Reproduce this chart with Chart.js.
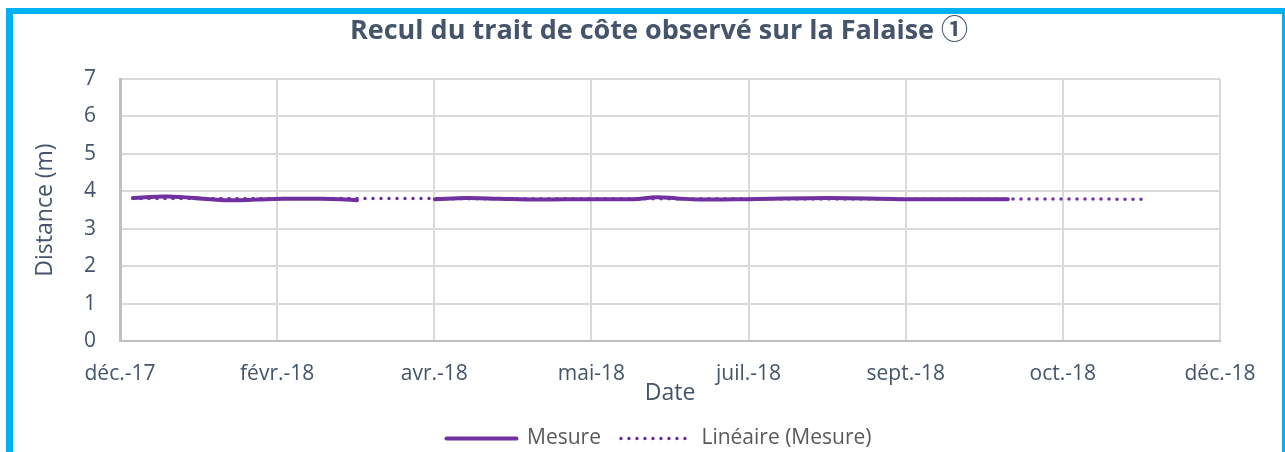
<!DOCTYPE html>
<html><head><meta charset="utf-8">
<script src="https://cdn.jsdelivr.net/npm/chart.js@4.4.1/dist/chart.umd.min.js"></script>
<style>
html,body{margin:0;padding:0;background:#fff;overflow:hidden;width:1285px;height:452px;}
#c{position:absolute;left:13px;top:14px;}
#frame{position:absolute;left:6px;top:8px;width:1269px;height:470px;border-left:7px solid #00B0F0;border-top:6px solid #00B0F0;border-right:7px solid #00B0F0;pointer-events:none;z-index:2;}
</style></head><body>
<canvas id="c" width="1292" height="445"></canvas>
<div id="frame"></div>
<script>
const titleText = 'Recul du trait de côte observé sur la Falaise ①';
const tickLabels = ['déc.-17','févr.-18','avr.-18','mai-18','juil.-18','sept.-18','oct.-18','déc.-18'];
const tickDays = [0, 52, 104, 156, 208, 260, 312, 364];
// days since first tick, null value = missing measurement (gap)
const measureDays   = [4.3, 15.6, 29.8, 36.4, 45.3, 53.9, 65.2, 72.8, 78.4, 91,   104.2, 114.8, 125.7, 136.7, 155.5, 169.8, 177.7, 184.3, 191.9, 208.5, 234.9, 258.1, 278.0, 293.8];
const measureValues = [3.82, 3.86, 3.79, 3.76, 3.78, 3.80, 3.80, 3.79, 3.76, null, 3.79,  3.82,  3.80,  3.78,  3.79,  3.79,  3.84,  3.81,  3.78,  3.79,  3.82,  3.79,  3.79,  3.79];
const trendDays = [4.3, 339];
const trendValues = [3.81, 3.79];

const purple = '#7030A0';
const slate = '#44546A';
Chart.defaults.font.family = "'Open Sans', sans-serif";

new Chart(document.getElementById('c'), {
  type: 'line',
  data: {
    datasets: [
      {
        label: 'Mesure',
        data: measureDays.map((d, i) => ({x: d, y: measureValues[i]})),
        borderColor: purple, backgroundColor: purple,
        borderWidth: 4, tension: 0.4, spanGaps: false,
        pointRadius: 0, pointStyle: 'line', borderCapStyle: 'round'
      },
      {
        label: 'Linéaire (Mesure)',
        data: trendDays.map((d, i) => ({x: d, y: trendValues[i]})),
        borderColor: purple, backgroundColor: purple,
        borderWidth: 3.5, borderDash: [0, 8], borderCapStyle: 'round',
        pointRadius: 0, pointStyle: 'line'
      }
    ]
  },
  options: {
    responsive: false, animation: false, devicePixelRatio: 1,
    layout: {padding: 0},
    plugins: {
      tooltip: {enabled: false},
      title: {
        display: true, text: titleText, color: slate,
        font: {size: 27, weight: 'bold', family: "'Open Sans', 'Noto Sans CJK JP', sans-serif"},
        padding: {top: 0.8, bottom: 31.8}
      },
      legend: {
        position: 'bottom',
        labels: {
          usePointStyle: true, pointStyleWidth: 70,
          color: '#595959', font: {size: 21}, padding: 20,
          generateLabels: (chart) => chart.data.datasets.map((ds, i) => ({
            text: ds.label, fillStyle: ds.borderColor, strokeStyle: ds.borderColor,
            lineWidth: ds.borderWidth, lineDash: ds.borderDash || [],
            lineCap: ds.borderCapStyle || 'butt', pointStyle: 'line',
            datasetIndex: i, hidden: false, fontColor: '#595959'
          }))
        }
      }
    },
    scales: {
      x: {
        type: 'linear', min: 0, max: 364,
        afterBuildTicks: (s) => { s.ticks = tickDays.map(v => ({value: v})); },
        afterFit: (s) => { s.height = 67; },
        ticks: {
          callback: (v, i) => tickLabels[i],
          autoSkip: false, maxRotation: 0, color: slate,
          font: {size: 21}, padding: 20
        },
        grid: {color: '#D9D9D9', lineWidth: 2, drawTicks: false},
        border: {color: '#BFBFBF', width: 2},
        title: {display: true, text: 'Date', color: slate, font: {size: 23}, padding: {top: 0, bottom: 1.2}}
      },
      y: {
        min: 0, max: 7,
        afterFit: (s) => { s.width = 107; },
        ticks: {stepSize: 1, color: slate, font: {size: 21}, padding: 24},
        grid: {color: '#D9D9D9', lineWidth: 2, drawTicks: false},
        border: {color: '#BFBFBF', width: 3},
        title: {display: true, text: 'Distance (m)', color: slate, font: {size: 23}, padding: {top: 18.2, bottom: 0}}
      },
      yR: {
        position: 'right', display: true,
        afterFit: (s) => { s.width = 85; },
        ticks: {display: false}, grid: {display: false}, border: {display: false}
      }
    }
  }
});
</script>
</body></html>
